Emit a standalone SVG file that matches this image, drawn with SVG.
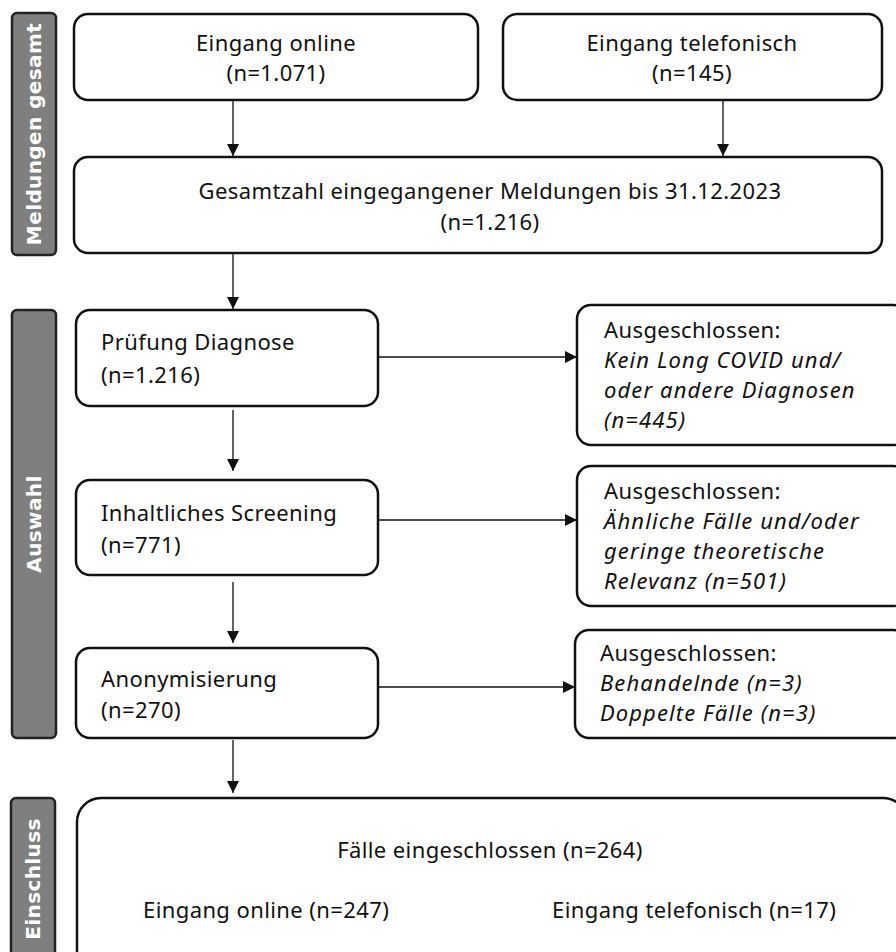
<svg xmlns="http://www.w3.org/2000/svg" width="896" height="952" viewBox="0 0 896 952">
<style>
.box{fill:#fff;stroke:#111;stroke-width:2.5}
.bar{fill:#7f7f7f;stroke:#222;stroke-width:2.5}
.t{font-family:"Noto Sans","Open Sans",sans-serif;font-size:22px;letter-spacing:0.4px;fill:#111}
.i{font-style:italic;letter-spacing:1.1px}
.m{text-anchor:middle}
.side{font-family:"DejaVu Sans",sans-serif;font-weight:bold;font-size:20px;letter-spacing:0.4px;fill:#fff;text-anchor:middle}
.c{stroke:#111;stroke-width:1.3;fill:none}
</style>
<defs>
<marker id="ah" markerWidth="12" markerHeight="12" refX="12" refY="6" orient="auto" markerUnits="userSpaceOnUse">
<path d="M0,0 L12,6 L0,12 Z" fill="#111"/>
</marker>
</defs>
<rect width="896" height="952" fill="#fff"/>
<g id="side-meldungen"><rect class="bar" x="12" y="13" width="44" height="242" rx="5"/><text class="side" transform="translate(41,134) rotate(-90)">Meldungen gesamt</text></g>
<g id="side-auswahl"><rect class="bar" x="12" y="310" width="44" height="428" rx="5"/><text class="side" transform="translate(41,524) rotate(-90)">Auswahl</text></g>
<g id="side-einschluss"><rect class="bar" x="11" y="798" width="44" height="170" rx="5"/><text class="side" transform="translate(40,879) rotate(-90)">Einschluss</text></g>
<g id="online"><rect class="box" x="74" y="14" width="404" height="86" rx="14"/><text class="t m" x="276" y="51">Eingang online</text><text class="t m" x="276" y="81">(n=1.071)</text></g>
<g id="telefon"><rect class="box" x="503" y="14" width="379" height="86" rx="14"/><text class="t m" x="692" y="51">Eingang telefonisch</text><text class="t m" x="692" y="81">(n=145)</text></g>
<g id="gesamt"><rect class="box" x="74" y="157" width="808" height="96" rx="14"/><text class="t m" x="490" y="199">Gesamtzahl eingegangener Meldungen bis 31.12.2023</text><text class="t m" x="490" y="230">(n=1.216)</text></g>
<g id="pruefung"><rect class="box" x="76" y="310" width="302" height="96" rx="14"/><text class="t" x="101" y="350">Prüfung Diagnose</text><text class="t" x="101" y="383">(n=1.216)</text></g>
<g id="screening"><rect class="box" x="76" y="480" width="302" height="95" rx="14"/><text class="t" x="101" y="521">Inhaltliches Screening</text><text class="t" x="101" y="553">(n=771)</text></g>
<g id="anonym"><rect class="box" x="76" y="648" width="302" height="90" rx="14"/><text class="t" x="101" y="687">Anonymisierung</text><text class="t" x="101" y="718">(n=270)</text></g>
<g id="aus1"><rect class="box" x="577" y="305" width="330" height="140" rx="14"/><text class="t" x="604" y="338">Ausgeschlossen:</text><text class="t i" x="604" y="368">Kein Long COVID und/</text><text class="t i" x="604" y="398">oder andere Diagnosen</text><text class="t i" x="604" y="428">(n=445)</text></g>
<g id="aus2"><rect class="box" x="577" y="466" width="330" height="140" rx="14"/><text class="t" x="604" y="499">Ausgeschlossen:</text><text class="t i" x="604" y="529">Ähnliche Fälle und/oder</text><text class="t i" x="604" y="559">geringe theoretische</text><text class="t i" x="604" y="589">Relevanz (n=501)</text></g>
<g id="aus3"><rect class="box" x="575" y="630" width="332" height="108" rx="14"/><text class="t" x="600" y="661">Ausgeschlossen:</text><text class="t i" x="600" y="691">Behandelnde (n=3)</text><text class="t i" x="600" y="721">Doppelte Fälle (n=3)</text></g>
<g id="einschluss"><rect class="box" x="77" y="798" width="830" height="180" rx="24"/><text class="t m" x="490" y="858">Fälle eingeschlossen (n=264)</text><text class="t" x="143" y="918">Eingang online (n=247)</text><text class="t" x="552" y="918">Eingang telefonisch (n=17)</text></g>
<g id="connectors">
<line class="c" x1="233" y1="100" x2="233" y2="156" marker-end="url(#ah)"/>
<line class="c" x1="723" y1="100" x2="723" y2="156" marker-end="url(#ah)"/>
<line class="c" x1="233" y1="254" x2="233" y2="309" marker-end="url(#ah)"/>
<line class="c" x1="233" y1="410" x2="233" y2="471" marker-end="url(#ah)"/>
<line class="c" x1="233" y1="582" x2="233" y2="643" marker-end="url(#ah)"/>
<line class="c" x1="233" y1="740" x2="233" y2="793" marker-end="url(#ah)"/>
<line class="c" x1="378" y1="357" x2="577" y2="357" marker-end="url(#ah)"/>
<line class="c" x1="378" y1="520" x2="577" y2="520" marker-end="url(#ah)"/>
<line class="c" x1="378" y1="687" x2="575" y2="687" marker-end="url(#ah)"/>
</g>
</svg>
